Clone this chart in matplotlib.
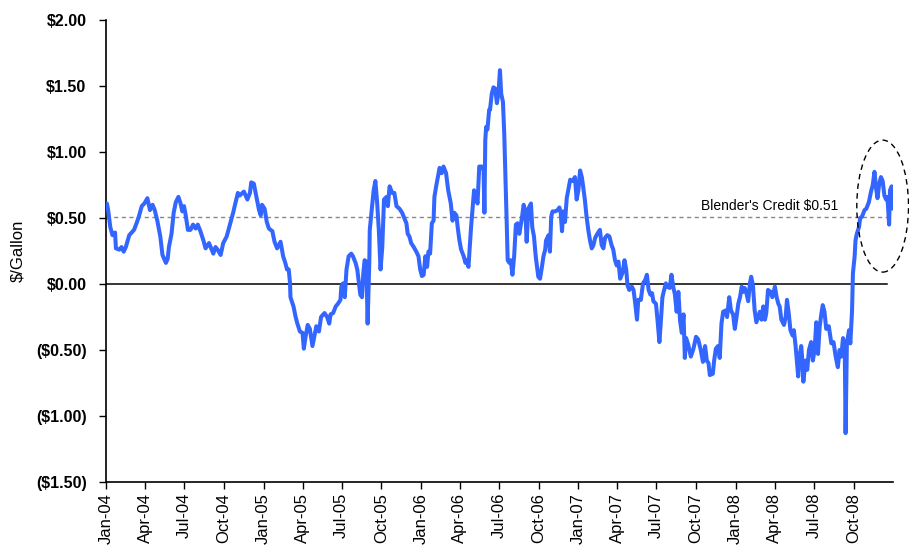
import matplotlib
matplotlib.use("Agg")
import matplotlib.pyplot as plt
import matplotlib.dates as mdates
from matplotlib.patches import Ellipse
import pandas as pd

# ---------------- data ----------------
dates = [
    "2004-01-03", "2004-01-06", "2004-01-11", "2004-01-16", "2004-01-22", "2004-01-24",
    "2004-02-01", "2004-02-06", "2004-02-11", "2004-02-16", "2004-02-24", "2004-03-03",
    "2004-03-06", "2004-03-13", "2004-03-18", "2004-03-24", "2004-03-30", "2004-04-06",
    "2004-04-12", "2004-04-18", "2004-04-23", "2004-04-29", "2004-05-06", "2004-05-11",
    "2004-05-19", "2004-05-23", "2004-05-26", "2004-06-01", "2004-06-06", "2004-06-11",
    "2004-06-17", "2004-06-22", "2004-06-26", "2004-06-30", "2004-07-04", "2004-07-09",
    "2004-07-15", "2004-07-21", "2004-07-27", "2004-08-01", "2004-08-07", "2004-08-14",
    "2004-08-19", "2004-08-27", "2004-09-01", "2004-09-06", "2004-09-11", "2004-09-16",
    "2004-09-23", "2004-09-29", "2004-10-07", "2004-10-12", "2004-10-17", "2004-10-22",
    "2004-10-27", "2004-11-02", "2004-11-06", "2004-11-16", "2004-11-24", "2004-11-30",
    "2004-12-03", "2004-12-09", "2004-12-15", "2004-12-21", "2004-12-25", "2004-12-28",
    "2005-01-03", "2005-01-08", "2005-01-13", "2005-01-21", "2005-01-26", "2005-02-01",
    "2005-02-09", "2005-02-15", "2005-02-20", "2005-02-24", "2005-02-28", "2005-03-03",
    "2005-03-04", "2005-03-11", "2005-03-16", "2005-03-20", "2005-03-26", "2005-04-01",
    "2005-04-04", "2005-04-08", "2005-04-13", "2005-04-18", "2005-04-24", "2005-04-27",
    "2005-05-03", "2005-05-09", "2005-05-14", "2005-05-22", "2005-05-28", "2005-06-02",
    "2005-06-05", "2005-06-11", "2005-06-17", "2005-06-22", "2005-06-28", "2005-06-30",
    "2005-07-04", "2005-07-08", "2005-07-12", "2005-07-17", "2005-07-23", "2005-07-27",
    "2005-08-02", "2005-08-06", "2005-08-09", "2005-08-13", "2005-08-17", "2005-08-20",
    "2005-08-23", "2005-08-27", "2005-08-30", "2005-09-03", "2005-09-04", "2005-09-10",
    "2005-09-13", "2005-09-17", "2005-09-21", "2005-09-25", "2005-09-29", "2005-10-03",
    "2005-10-07", "2005-10-13", "2005-10-16", "2005-10-20", "2005-10-26", "2005-10-31",
    "2005-11-05", "2005-11-12", "2005-11-18", "2005-11-23", "2005-11-28", "2005-12-01",
    "2005-12-05", "2005-12-09", "2005-12-15", "2005-12-21", "2005-12-26", "2005-12-30",
    "2006-01-03", "2006-01-07", "2006-01-11", "2006-01-15", "2006-01-18", "2006-01-22",
    "2006-01-26", "2006-01-30", "2006-02-01", "2006-02-05", "2006-02-09", "2006-02-13",
    "2006-02-18", "2006-02-22", "2006-02-28", "2006-03-05", "2006-03-08", "2006-03-11",
    "2006-03-15", "2006-03-19", "2006-03-24", "2006-03-27", "2006-03-31", "2006-04-04",
    "2006-04-10", "2006-04-14", "2006-04-17", "2006-04-21", "2006-04-25", "2006-04-27",
    "2006-05-01", "2006-05-04", "2006-05-09", "2006-05-12", "2006-05-16", "2006-05-22",
    "2006-05-26", "2006-05-28", "2006-05-30", "2006-06-01", "2006-06-04", "2006-06-08",
    "2006-06-10", "2006-06-14", "2006-06-18", "2006-06-22", "2006-06-26", "2006-06-30",
    "2006-07-03", "2006-07-06", "2006-07-10", "2006-07-13", "2006-07-15", "2006-07-17",
    "2006-07-19", "2006-07-21", "2006-07-25", "2006-07-28", "2006-08-01", "2006-08-05",
    "2006-08-09", "2006-08-13", "2006-08-17", "2006-08-23", "2006-08-27", "2006-08-31",
    "2006-09-03", "2006-09-07", "2006-09-13", "2006-09-16", "2006-09-20", "2006-09-24",
    "2006-09-30", "2006-10-04", "2006-10-08", "2006-10-12", "2006-10-16", "2006-10-18",
    "2006-10-24", "2006-10-27", "2006-10-30", "2006-11-02", "2006-11-08", "2006-11-14",
    "2006-11-18", "2006-11-21", "2006-11-24", "2006-11-27", "2006-12-01", "2006-12-05",
    "2006-12-09", "2006-12-13", "2006-12-19", "2006-12-24", "2006-12-28", "2007-01-01",
    "2007-01-05", "2007-01-09", "2007-01-12", "2007-01-16", "2007-01-20", "2007-01-24",
    "2007-01-28", "2007-02-01", "2007-02-05", "2007-02-09", "2007-02-14", "2007-02-20",
    "2007-02-24", "2007-02-28", "2007-03-04", "2007-03-09", "2007-03-14", "2007-03-19",
    "2007-03-23", "2007-03-27", "2007-03-31", "2007-04-04", "2007-04-08", "2007-04-14",
    "2007-04-18", "2007-04-22", "2007-04-25", "2007-04-29", "2007-05-05", "2007-05-09",
    "2007-05-13", "2007-05-17", "2007-05-20", "2007-05-26", "2007-05-31", "2007-06-05",
    "2007-06-09", "2007-06-13", "2007-06-17", "2007-06-21", "2007-06-24", "2007-06-30",
    "2007-07-03", "2007-07-08", "2007-07-11", "2007-07-15", "2007-07-19", "2007-07-23",
    "2007-07-26", "2007-08-01", "2007-08-05", "2007-08-09", "2007-08-13", "2007-08-17",
    "2007-08-21", "2007-08-25", "2007-08-29", "2007-09-02", "2007-09-05", "2007-09-08",
    "2007-09-13", "2007-09-19", "2007-09-25", "2007-10-01", "2007-10-06", "2007-10-12",
    "2007-10-17", "2007-10-22", "2007-10-26", "2007-10-30", "2007-11-02", "2007-11-09",
    "2007-11-12", "2007-11-16", "2007-11-21", "2007-11-25", "2007-11-29", "2007-12-03",
    "2007-12-09", "2007-12-12", "2007-12-17", "2007-12-21", "2007-12-26", "2007-12-30",
    "2008-01-03", "2008-01-07", "2008-01-11", "2008-01-15", "2008-01-18", "2008-01-22",
    "2008-01-26", "2008-01-30", "2008-02-03", "2008-02-06", "2008-02-10", "2008-02-14",
    "2008-02-18", "2008-02-22", "2008-02-26", "2008-03-01", "2008-03-05", "2008-03-09",
    "2008-03-12", "2008-03-16", "2008-03-22", "2008-03-26", "2008-04-01", "2008-04-05",
    "2008-04-09", "2008-04-12", "2008-04-16", "2008-04-22", "2008-04-26", "2008-04-29",
    "2008-05-03", "2008-05-07", "2008-05-12", "2008-05-15", "2008-05-19", "2008-05-25",
    "2008-05-28", "2008-06-01", "2008-06-03", "2008-06-06", "2008-06-11", "2008-06-15",
    "2008-06-19", "2008-06-24", "2008-06-28", "2008-07-02", "2008-07-06", "2008-07-10",
    "2008-07-14", "2008-07-18", "2008-07-21", "2008-07-25", "2008-07-29", "2008-08-04",
    "2008-08-10", "2008-08-15", "2008-08-20", "2008-08-25", "2008-08-29", "2008-09-02",
    "2008-09-06", "2008-09-10", "2008-09-12", "2008-09-15", "2008-09-20", "2008-09-23",
    "2008-09-27", "2008-09-29", "2008-10-03", "2008-10-05", "2008-10-08", "2008-10-13",
    "2008-10-16", "2008-10-20", "2008-10-26", "2008-10-30", "2008-11-05", "2008-11-10",
    "2008-11-14", "2008-11-18", "2008-11-22", "2008-11-25", "2008-11-29", "2008-12-03",
    "2008-12-07", "2008-12-11", "2008-12-15", "2008-12-18", "2008-12-22", "2008-12-24",
    "2008-12-28", "2008-12-31",
]
values = [
    0.61, 0.56, 0.43, 0.37, 0.39, 0.27,
    0.26, 0.28, 0.245, 0.28, 0.37, 0.40,
    0.41, 0.47, 0.52, 0.59, 0.61, 0.65,
    0.56, 0.60, 0.56, 0.48, 0.36, 0.22,
    0.16, 0.19, 0.28, 0.38, 0.54, 0.62,
    0.66, 0.61, 0.55, 0.59, 0.52, 0.41,
    0.41, 0.45, 0.42, 0.45, 0.40, 0.33,
    0.27, 0.31, 0.27, 0.23, 0.28, 0.26,
    0.22, 0.31, 0.36, 0.42, 0.48, 0.54,
    0.61, 0.69, 0.67, 0.70, 0.64, 0.69,
    0.77, 0.76, 0.66, 0.56, 0.52, 0.60,
    0.57, 0.47, 0.42, 0.40, 0.32, 0.27,
    0.32, 0.21, 0.16, 0.11, 0.11, 0.005,
    -0.10, -0.17, -0.25, -0.30, -0.36, -0.37,
    -0.49, -0.40, -0.31, -0.34, -0.47, -0.42,
    -0.32, -0.36, -0.25, -0.22, -0.25, -0.30,
    -0.23, -0.22, -0.17, -0.15, -0.12, -0.02,
    0.005, -0.10, 0.11, 0.21, 0.23, 0.21,
    0.16, 0.11, 0.03, -0.08, -0.10, 0.08,
    0.18, 0.17, -0.30, 0.18, 0.41, 0.61,
    0.71, 0.78, 0.62, 0.41, 0.11, 0.28,
    0.64, 0.66, 0.59, 0.74, 0.69, 0.69,
    0.59, 0.57, 0.54, 0.50, 0.46, 0.38,
    0.36, 0.31, 0.28, 0.245, 0.21, 0.11,
    0.06, 0.07, 0.21, 0.13, 0.245, 0.23,
    0.46, 0.48, 0.66, 0.74, 0.81, 0.88,
    0.84, 0.89, 0.84, 0.71, 0.66, 0.61,
    0.48, 0.54, 0.52, 0.43, 0.33, 0.26,
    0.21, 0.16, 0.18, 0.13, 0.33, 0.43,
    0.59, 0.71, 0.66, 0.61, 0.89, 0.89,
    0.86, 0.54, 1.09, 1.19, 1.17, 1.32,
    1.32, 1.44, 1.49, 1.48, 1.37, 1.46,
    1.62, 1.44, 1.38, 1.14, 0.91, 0.69,
    0.43, 0.18, 0.16, 0.18, 0.07, 0.21,
    0.45, 0.46, 0.38, 0.50, 0.60, 0.55,
    0.32, 0.57, 0.61, 0.43, 0.36, 0.21,
    0.055, 0.04, 0.12, 0.21, 0.26, 0.33,
    0.37, 0.245, 0.51, 0.55, 0.55, 0.56,
    0.58, 0.54, 0.40, 0.55, 0.47, 0.65,
    0.72, 0.79, 0.78, 0.81, 0.64, 0.71,
    0.86, 0.81, 0.74, 0.64, 0.51, 0.41,
    0.33, 0.27, 0.295, 0.35, 0.38, 0.41,
    0.295, 0.27, 0.35, 0.37, 0.36, 0.295,
    0.26, 0.18, 0.14, 0.17, 0.04, 0.09,
    0.18, 0.11, -0.01, -0.045, -0.02, -0.045,
    -0.15, -0.27, -0.12, -0.12, 0.005, 0.03,
    0.07, -0.045, -0.08, -0.07, -0.13, -0.15,
    -0.25, -0.44, -0.30, -0.10, -0.045, 0.005,
    -0.02, -0.03, 0.07, -0.02, -0.08, -0.21,
    -0.06, -0.28, -0.37, -0.23, -0.56, -0.41,
    -0.46, -0.55, -0.49, -0.40, -0.42, -0.50,
    -0.59, -0.47, -0.58, -0.60, -0.69, -0.68,
    -0.58, -0.49, -0.47, -0.56, -0.30, -0.21,
    -0.20, -0.25, -0.10, -0.20, -0.23, -0.34,
    -0.25, -0.15, -0.10, -0.02, -0.06, -0.03,
    -0.07, -0.13, 0.005, 0.055, -0.01, -0.20,
    -0.29, -0.25, -0.21, -0.27, -0.17, -0.27,
    -0.22, -0.045, -0.06, -0.10, -0.02, -0.10,
    -0.15, -0.17, -0.27, -0.31, -0.25, -0.12,
    -0.22, -0.35, -0.39, -0.35, -0.47, -0.70,
    -0.55, -0.47, -0.55, -0.74, -0.58, -0.65,
    -0.50, -0.44, -0.58, -0.50, -0.29, -0.53,
    -0.32, -0.22, -0.16, -0.21, -0.34, -0.32,
    -0.45, -0.44, -0.55, -0.63, -0.50, -0.55,
    -0.41, -0.47, -1.13, -0.45, -0.35, -0.45,
    -0.20, 0.08, 0.21, 0.33, 0.38, 0.43,
    0.50, 0.51, 0.56, 0.57, 0.62, 0.70,
    0.75, 0.85, 0.72, 0.65, 0.76, 0.81,
    0.78, 0.67, 0.64, 0.66, 0.45, 0.71,
    0.74, 0.57,
]

blender_credit = 0.51
credit_label = "Blender's Credit $0.51"
y_label = "$/Gallon"
y_ticks = [2.0, 1.5, 1.0, 0.5, 0.0, -0.5, -1.0, -1.5]
y_tick_labels = ["$2.00", "$1.50", "$1.00", "$0.50", "$0.00",
                 "($0.50)", "($1.00)", "($1.50)"]
x_tick_dates = pd.date_range("2004-01-01", "2008-10-01", freq="QS")
x_tick_labels = [d.strftime("%b-%y") for d in x_tick_dates]

# ---------------- figure ----------------
W, H = 909, 548
fig = plt.figure(figsize=(W / 100, H / 100), dpi=100)
ax = fig.add_axes([106 / W, 1 - 482 / H, (893 - 106) / W, (482 - 20) / H])

x = pd.to_datetime(dates)
ax.plot(x, values, color="#3366FF", lw=2.9, solid_joinstyle="round",
        solid_capstyle="round", zorder=3)

ax.axhline(0, xmin=0, xmax=0.992, color="black", lw=1.1, zorder=2)
ax.axhline(blender_credit, color="#888888", lw=1.0, ls=(0, (3, 2.5)), zorder=2)

ax.set_xlim(pd.Timestamp("2004-01-01"), pd.Timestamp("2008-12-31"))
ax.set_ylim(-1.5, 2.0)

ax.set_yticks(y_ticks)
ax.set_yticklabels(y_tick_labels, fontsize=11.5, fontweight="bold",
                   family=["Liberation Sans", "DejaVu Sans"])
ax.set_xticks(x_tick_dates)
ax.set_xticklabels(x_tick_labels, rotation=90, fontsize=12,
                   family=["Liberation Sans", "DejaVu Sans"])
ax.tick_params(axis="y", direction="out", length=5, width=1, pad=9)
ax.tick_params(axis="x", direction="out", length=5, width=1, pad=3)

ax.set_ylabel(y_label, fontsize=12, family=["Liberation Sans", "DejaVu Sans"])
ax.yaxis.set_label_coords(-(106 - 25) / (893 - 106), 0.5)

for s in ("top", "right"):
    ax.spines[s].set_visible(False)
for s in ("left", "bottom"):
    ax.spines[s].set_linewidth(1.2)
    ax.spines[s].set_color("black")

ax.text(pd.Timestamp("2008-08-25"), 0.535, credit_label, ha="right", va="bottom",
        fontsize=10, family=["Liberation Sans", "DejaVu Sans"])

center = mdates.date2num(pd.Timestamp("2008-12-07"))
ell = Ellipse((center, 0.59), width=120, height=1.0, fill=False,
              edgecolor="black", lw=1.0, ls=(0, (4, 3)), clip_on=False, zorder=4)
ax.add_patch(ell)

fig.savefig("out.png", dpi=100)
